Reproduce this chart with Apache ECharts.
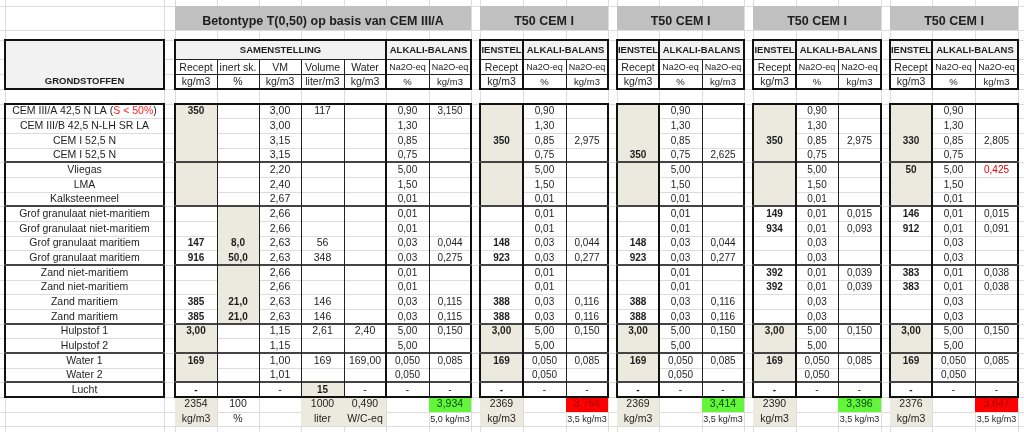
<!DOCTYPE html>
<html>
<head>
<meta charset="utf-8">
<title>Betontype T(0,50) - alkali-balans</title>
<script src="https://cdn.jsdelivr.net/npm/echarts@6/dist/echarts.min.js"></script>
<style>
  html, body { margin: 0; padding: 0; background: #fff; }
  #main { width: 1024px; height: 432px; }
</style>
</head>
<body>
<div id="main"></div>
<script>
// ---- gegevens uit de tabel ----
var materials = [
  'CEM III/A 42,5 N LA (S < 50%)', 'CEM III/B 42,5 N-LH SR LA', 'CEM I 52,5 N', 'CEM I 52,5 N',
  'Vliegas', 'LMA', 'Kalksteenmeel',
  'Grof granulaat niet-maritiem', 'Grof granulaat niet-maritiem', 'Grof granulaat maritiem', 'Grof granulaat maritiem',
  'Zand niet-maritiem', 'Zand niet-maritiem', 'Zand maritiem', 'Zand maritiem',
  'Hulpstof 1', 'Hulpstof 2', 'Water 1', 'Water 2', 'Lucht'
];
var materialNote = 'S < 50%';

var baseTitle = 'Betontype T(0,50) op basis van CEM III/A';
var baseHeads = ['Recept', 'inert sk.', 'VM', 'Volume', 'Water', 'Na2O-eq', 'Na2O-eq'];
var baseUnits = ['kg/m3', '%', 'kg/m3', 'liter/m3', 'kg/m3', '%', 'kg/m3'];

var baseRecept = ['350', '', '', '', '', '', '', '', '', '147', '916', '', '', '385', '385', '3,00', '', '169', '', '-'];
var baseInert = ['', '', '', '', '', '', '', '', '', '8,0', '50,0', '', '', '21,0', '21,0', '', '', '', '', ''];
var baseVM = ['3,00', '3,00', '3,15', '3,15', '2,20', '2,40', '2,67', '2,66', '2,66', '2,63', '2,63', '2,66', '2,66', '2,63', '2,63', '1,15', '1,15', '1,00', '1,01', '-'];
var baseVolume = ['117', '', '', '', '', '', '', '', '', '56', '348', '', '', '146', '146', '2,61', '', '169', '', '15'];
var baseWater = ['', '', '', '', '', '', '', '', '', '', '', '', '', '', '', '2,40', '', '169,00', '', '-'];
var na2oPct = ['0,90', '1,30', '0,85', '0,75', '5,00', '1,50', '0,01', '0,01', '0,01', '0,03', '0,03', '0,01', '0,01', '0,03', '0,03', '5,00', '5,00', '0,050', '0,050', '-'];
var baseNa2oKg = ['3,150', '', '', '', '', '', '', '', '', '0,044', '0,275', '', '', '0,115', '0,115', '0,150', '', '0,085', '', '-'];
var baseTotals = ['2354', '100', '', '1000', '0,490', '', '3,934'];
var baseTotalUnits = ['kg/m3', '%', '', 'liter', 'W/C-eq', '', '5,0 kg/m3'];
var baseLimit = 5.0;

var t50Title = 'T50 CEM I';
var t50Recept = [
  ['', '', '350', '', '', '', '', '', '', '148', '923', '', '', '388', '388', '3,00', '', '169', '', '-'],
  ['', '', '', '350', '', '', '', '', '', '148', '923', '', '', '388', '388', '3,00', '', '169', '', '-'],
  ['', '', '350', '', '', '', '', '149', '934', '', '', '392', '392', '', '', '3,00', '', '169', '', '-'],
  ['', '', '330', '', '50', '', '', '146', '912', '', '', '383', '383', '', '', '3,00', '', '169', '', '-']
];
var t50Na2oKg = [
  ['', '', '2,975', '', '', '', '', '', '', '0,044', '0,277', '', '', '0,116', '0,116', '0,150', '', '0,085', '', '-'],
  ['', '', '', '2,625', '', '', '', '', '', '0,044', '0,277', '', '', '0,116', '0,116', '0,150', '', '0,085', '', '-'],
  ['', '', '2,975', '', '', '', '', '0,015', '0,093', '', '', '0,039', '0,039', '', '', '0,150', '', '0,085', '', '-'],
  ['', '', '2,805', '', '0,425', '', '', '0,015', '0,091', '', '', '0,038', '0,038', '', '', '0,150', '', '0,085', '', '-']
];
var t50Totals = ['2369', '2369', '2390', '2376'];
var t50Balance = ['3,764', '3,414', '3,396', '3,647'];
var t50LimitText = '3,5 kg/m3';
var t50Limit = 3.5;

// ---- opmaak: kolom- en rijgrenzen van het werkblad (px) ----
var colX = [0, 5, 164, 175, 217, 259, 301, 344, 386, 429, 471, 480, 523, 566, 608, 617, 659, 702, 744, 753, 796, 838, 881, 890, 932, 975, 1018, 1024];
var rowY = [0, 6, 30, 40, 59, 74, 89];
for (var k = 0; k <= 22; k++) rowY.push(Math.round(103.5 + k * 14.67));
rowY.push(432);
var t50Starts = [11, 15, 19, 23];
var groupRows = [11, 14, 18, 22, 24, 26];

var FONT = '"Liberation Sans", Arial, sans-serif';
var INK = '#1e1e1e';
var GRID = '#dcdcdc';
var BEIGE = '#eceadf';
var HEAD = '#f2f2f2';
var GREEN = '#62f53a';
var RED = '#ff0000';

var fills = [], lines = [], texts = [];
function fill(c0, c1, r0, r1, color) { fills.push({ c0: c0, c1: c1, r0: r0, r1: r1, color: color }); }
function hline(r, c0, c1, w, color) { lines.push({ h: true, r: r, c0: c0, c1: c1, w: w, color: color }); }
function vline(c, r0, r1, w, color) { lines.push({ h: false, c: c, r0: r0, r1: r1, w: w, color: color }); }
function box(c0, c1, r0, r1) {
  hline(r0, c0, c1, 2, '#111'); hline(r1, c0, c1, 2, '#111');
  vline(c0, r0, r1, 2, '#111'); vline(c1, r0, r1, 2, '#111');
}
function text(c0, c1, r1, str, o) {
  o = o || {};
  texts.push({ c0: c0, c1: c1, r1: r1, text: str, size: o.size || 10.5, bold: !!o.bold,
    color: o.color || INK, off: o.off == null ? 7 : o.off, rich: o.rich });
}
function colTexts(c, values, o) {
  values.forEach(function (v, i) { if (v !== '') text(c, c + 1, 8 + i, v, o); });
}
function num(s) { return parseFloat(s.replace(',', '.')); }
function dataBox(c0, c1) {
  box(c0, c1, 7, 27);
  groupRows.forEach(function (r) { hline(r, c0, c1, 2, '#444'); });
}

// rasterlijnen van het werkblad
for (var r = 1; r < rowY.length - 1; r++) hline(r, 0, colX.length - 1, 1, GRID);
for (var c = 1; c < colX.length - 1; c++) vline(c, 0, rowY.length - 1, 1, GRID);

// grondstoffen
fill(1, 2, 3, 6, HEAD);
box(1, 2, 3, 6);
text(1, 2, 6, 'GRONDSTOFFEN', { bold: true, size: 9.5, off: 7.3 });
dataBox(1, 2);
materials.forEach(function (m, i) {
  if (m.indexOf(materialNote) >= 0) {
    var rich = '{n|' + m.replace(materialNote, '}{r|' + materialNote + '}{n|') + '}';
    text(1, 2, 8 + i, rich, { rich: true });
  } else {
    text(1, 2, 8 + i, m);
  }
});

// betontype CEM III/A
fill(3, 10, 1, 2, '#c0c0c0');
text(3, 10, 2, baseTitle, { bold: true, size: 12.5, off: 8.5 });
fill(3, 10, 3, 4, HEAD);
text(3, 8, 4, 'SAMENSTELLING', { bold: true, size: 9.5, off: 9 });
text(8, 10, 4, 'ALKALI-BALANS', { bold: true, size: 9.5, off: 9 });
baseHeads.forEach(function (h, i) { text(3 + i, 4 + i, 5, h, { size: i >= 5 ? 9 : 10.5, off: 6 }); });
baseUnits.forEach(function (u, i) { text(3 + i, 4 + i, 6, u, { size: i >= 5 ? 9.5 : 10.5, off: 6.5 }); });
box(3, 10, 3, 6);
hline(4, 3, 10, 1, '#222'); hline(5, 3, 10, 1, '#222');
vline(8, 3, 6, 2, '#111');
[4, 5, 6, 7, 9].forEach(function (c) { vline(c, 4, 6, 1, '#222'); });

fill(3, 4, 7, 14, BEIGE); fill(3, 4, 22, 26, BEIGE);
fill(4, 5, 14, 22, BEIGE); fill(6, 7, 26, 27, BEIGE);
fill(3, 4, 27, 29, BEIGE); fill(6, 8, 27, 29, BEIGE);
fill(9, 10, 27, 28, num(baseTotals[6]) <= baseLimit ? GREEN : RED);
dataBox(3, 10);
vline(8, 7, 27, 2, '#111');
[4, 5, 6, 7, 9].forEach(function (c) { vline(c, 7, 27, 1, '#222'); });

colTexts(3, baseRecept, { bold: true, size: 10 });
colTexts(4, baseInert, { bold: true, size: 10 });
colTexts(5, baseVM);
baseVolume.forEach(function (v, i) { if (v !== '') text(6, 7, 8 + i, v, { bold: i === 19, size: i === 19 ? 10 : 10.5 }); });
colTexts(7, baseWater);
colTexts(8, na2oPct, { size: 10 });
colTexts(9, baseNa2oKg, { size: 10 });
baseTotals.forEach(function (v, i) {
  if (v === '') return;
  var ok = num(baseTotals[6]) <= baseLimit;
  text(3 + i, 4 + i, 28, v, { off: 7.5, color: i === 6 ? (ok ? '#0b4a0b' : '#a00000') : INK });
});
baseTotalUnits.forEach(function (v, i) { if (v !== '') text(3 + i, 4 + i, 29, v, { off: 6.5, size: i === 6 ? 9 : 10.5 }); });

// T50 CEM I blokken
t50Starts.forEach(function (s, b) {
  fill(s, s + 3, 1, 2, '#c0c0c0');
  text(s, s + 3, 2, t50Title, { bold: true, size: 12.5, off: 8.5 });
  fill(s, s + 3, 3, 4, HEAD);
  text(s, s + 1, 4, 'IENSTEL', { bold: true, size: 9.5, off: 9 });
  text(s + 1, s + 3, 4, 'ALKALI-BALANS', { bold: true, size: 9.5, off: 9 });
  text(s, s + 1, 5, 'Recept', { off: 6 });
  text(s + 1, s + 2, 5, 'Na2O-eq', { size: 9, off: 6 });
  text(s + 2, s + 3, 5, 'Na2O-eq', { size: 9, off: 6 });
  text(s, s + 1, 6, 'kg/m3', { off: 6.5 });
  text(s + 1, s + 2, 6, '%', { size: 9.5, off: 6.5 });
  text(s + 2, s + 3, 6, 'kg/m3', { size: 9.5, off: 6.5 });
  box(s, s + 3, 3, 6);
  hline(4, s, s + 3, 1, '#222'); hline(5, s, s + 3, 1, '#222');
  vline(s + 1, 3, 6, 2, '#111');
  vline(s + 2, 4, 6, 1, '#222');

  var ok = num(t50Balance[b]) <= t50Limit;
  fill(s, s + 1, 7, 14, BEIGE); fill(s, s + 1, 22, 26, BEIGE);
  fill(s, s + 1, 27, 29, BEIGE);
  fill(s + 2, s + 3, 27, 28, ok ? GREEN : RED);
  dataBox(s, s + 3);
  vline(s + 1, 7, 27, 2, '#111');
  vline(s + 2, 7, 27, 1, '#222');

  colTexts(s, t50Recept[b], { bold: true, size: 10 });
  colTexts(s + 1, na2oPct, { size: 10 });
  t50Na2oKg[b].forEach(function (v, i) {
    if (v === '') return;
    // Vliegas-bijdrage in rood
    text(s + 2, s + 3, 8 + i, v, { size: 10, color: i === 4 ? '#e00000' : INK });
  });
  text(s, s + 1, 28, t50Totals[b], { off: 7.5 });
  text(s + 2, s + 3, 28, t50Balance[b], { off: 7.5, color: ok ? '#0b4a0b' : '#a00000' });
  text(s, s + 1, 29, 'kg/m3', { off: 6.5 });
  text(s + 2, s + 3, 29, t50LimitText, { off: 6.5, size: 9 });
});

// ---- tekenen ----
var myChart = echarts.init(document.getElementById('main'));

function crisp(v, w) { return w % 2 === 1 ? Math.round(v) + 0.5 : Math.round(v); }

var gridLines = lines.filter(function (l) { return l.color === GRID; });
var borderLines = lines.filter(function (l) { return l.color !== GRID; });

var option = {
  animation: false,
  grid: { left: 0, right: 0, top: 0, bottom: 0 },
  xAxis: { type: 'value', min: 0, max: 1024, show: false },
  yAxis: { type: 'value', min: 0, max: 432, inverse: true, show: false },
  series: [
    {
      type: 'custom', name: 'lijnen-raster', z: 1, silent: true, clip: false,
      data: gridLines.map(function () { return [0, 0]; }),
      renderItem: function (params, api) { return lineEl(gridLines[params.dataIndex], api); }
    },
    {
      type: 'custom', name: 'vulling', z: 2, silent: true, clip: false,
      data: fills.map(function (f) { return [colX[f.c0], rowY[f.r0]]; }),
      renderItem: function (params, api) {
        var f = fills[params.dataIndex];
        var a = api.coord([colX[f.c0], rowY[f.r0]]);
        var b = api.coord([colX[f.c1], rowY[f.r1]]);
        return { type: 'rect', shape: { x: a[0], y: a[1], width: b[0] - a[0], height: b[1] - a[1] }, style: { fill: f.color } };
      }
    },
    {
      type: 'custom', name: 'randen', z: 3, silent: true, clip: false,
      data: borderLines.map(function () { return [0, 0]; }),
      renderItem: function (params, api) { return lineEl(borderLines[params.dataIndex], api); }
    },
    {
      type: 'custom', name: 'tekst', z: 4, silent: true, clip: false,
      data: texts.map(function (t) { return [colX[t.c0], rowY[t.r1]]; }),
      renderItem: function (params, api) {
        var t = texts[params.dataIndex];
        var a = api.coord([colX[t.c0], rowY[t.r1]]);
        var b = api.coord([colX[t.c1], rowY[t.r1]]);
        var style = {
          text: t.text, fill: t.color, fontSize: t.size, fontFamily: FONT,
          fontWeight: t.bold ? 'bold' : 'normal', align: 'center', verticalAlign: 'middle'
        };
        if (t.rich) {
          style.rich = {
            n: { fill: INK, fontSize: t.size, fontFamily: FONT },
            r: { fill: '#ff2020', fontSize: t.size, fontFamily: FONT }
          };
        }
        return { type: 'text', x: (a[0] + b[0]) / 2, y: a[1] - t.off, style: style };
      }
    }
  ]
};

function lineEl(l, api) {
  var p0, p1;
  if (l.h) {
    p0 = api.coord([colX[l.c0], rowY[l.r]]);
    p1 = api.coord([colX[l.c1], rowY[l.r]]);
    p0[1] = p1[1] = crisp(p0[1], l.w);
  } else {
    p0 = api.coord([colX[l.c], rowY[l.r0]]);
    p1 = api.coord([colX[l.c], rowY[l.r1]]);
    p0[0] = p1[0] = crisp(p0[0], l.w);
  }
  return {
    type: 'line',
    shape: { x1: p0[0], y1: p0[1], x2: p1[0], y2: p1[1] },
    style: { stroke: l.color, lineWidth: l.w, lineCap: l.w > 1 ? 'square' : 'butt' }
  };
}

myChart.setOption(option);
</script>
</body>
</html>
